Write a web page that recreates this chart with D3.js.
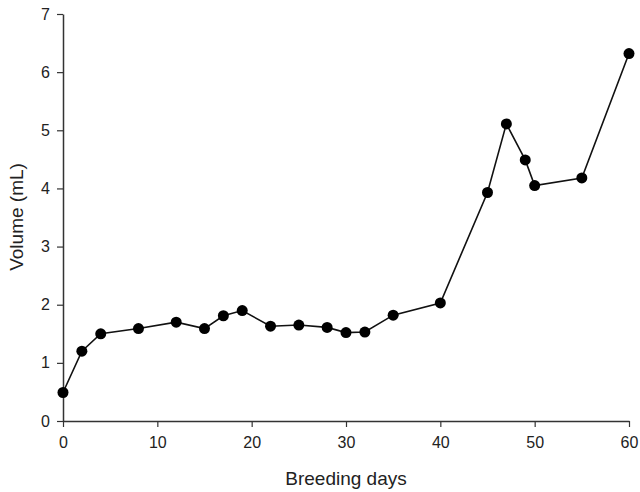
<!DOCTYPE html>
<html><head><meta charset="utf-8">
<script src="https://cdn.jsdelivr.net/npm/d3@7"></script>
<style>body{margin:0;background:#fff}svg{display:block}text{font-family:"Liberation Sans",Arial,sans-serif}</style>
</head><body>
<svg id="c" width="640" height="492"></svg>
<script>
const days = [0,2,4,8,12,15,17,19,22,25,28,30,32,35,40,45,47,49,50,55,60];
const volume = [0.49,1.2,1.5,1.59,1.7,1.59,1.81,1.9,1.63,1.65,1.61,1.52,1.53,1.82,2.03,3.93,5.11,4.49,4.05,4.18,6.32];
const xTicks = [0,10,20,30,40,50,60];
const yTicks = [0,1,2,3,4,5,6,7];
const xLabel = "Breeding days";
const yLabel = "Volume (mL)";

const svg = d3.select("#c");
const x = d3.scaleLinear().domain([0,60]).range([63,629]);
const y = d3.scaleLinear().domain([0,7]).range([421,14]);
const axColor = "#333";

const gx = svg.append("g").attr("transform","translate(0,421)")
  .call(d3.axisBottom(x).tickValues(xTicks).tickFormat(d3.format("d")).tickSize(6).tickSizeOuter(0).tickPadding(10));
const gy = svg.append("g").attr("transform","translate(63,0)")
  .call(d3.axisLeft(y).tickValues(yTicks).tickFormat(d3.format("d")).tickSize(6).tickSizeOuter(0).tickPadding(7));
[gx,gy].forEach(g=>{
  g.select(".domain").attr("stroke",axColor).attr("stroke-width",1.5);
  g.selectAll(".tick line").attr("stroke",axColor).attr("stroke-width",1.2);
  g.selectAll(".tick text").attr("fill","#222").attr("font-size",16).style("font-family","'Liberation Sans',Arial,sans-serif");
});

svg.append("path").datum(days.map((d,i)=>[d,volume[i]]))
  .attr("fill","none").attr("stroke","#111").attr("stroke-width",1.6)
  .attr("d",d3.line().x(d=>x(d[0])).y(d=>y(d[1])));
svg.append("g").selectAll("circle").data(days.map((d,i)=>[d,volume[i]])).join("circle")
  .attr("cx",d=>x(d[0])).attr("cy",d=>y(d[1])).attr("r",5.5).attr("fill","#000");

svg.append("text").attr("x",346).attr("y",485).attr("text-anchor","middle")
  .attr("font-size",19).attr("fill","#222").text(xLabel);
svg.append("text").attr("transform","translate(23,217) rotate(-90)").attr("text-anchor","middle")
  .attr("font-size",19).attr("fill","#222").text(yLabel);
</script>
</body></html>
